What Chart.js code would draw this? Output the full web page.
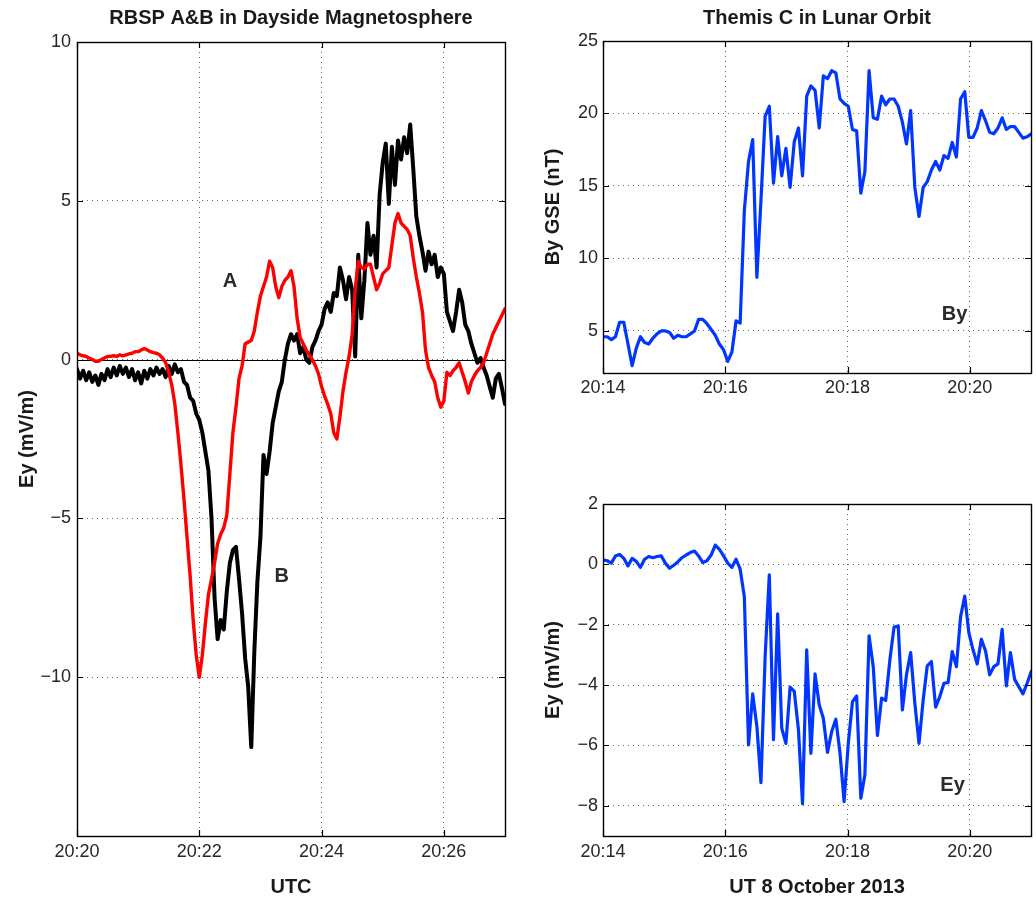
<!DOCTYPE html>
<html><head><meta charset="utf-8">
<script src="https://cdn.jsdelivr.net/npm/chart.js@4"></script>
<style>
html,body{margin:0;padding:0;background:#fff;width:1036px;height:900px;overflow:hidden}
.c{position:absolute}
</style></head><body>
<div class="c" style="left:0;top:0;"><canvas id="cL" width="520" height="900"></canvas></div>
<div class="c" style="left:520px;top:0;"><canvas id="cR1" width="516" height="400"></canvas></div>
<div class="c" style="left:520px;top:420px;"><canvas id="cR2" width="516" height="480"></canvas></div>
<script>
// ---------- RBSP (left panel) : seconds after 20:20:00 ----------
const rbspTime = [0,3,6,9,12,15,18,21,24,27,30,33,36,39,42,45,48,51,54,57,60,63,66,69,72,75,78,81,84,87,90,93,96,99,102,105,108,111,114,117,120,123,126,129,132,135,138,141,144,147,150,153,156,159,162,165,168,171,174,177,180,183,186,189,192,195,198,201,204,207,210,213,216,219,222,225,228,231,234,237,240,243,246,249,252,255,258,261,264,267,270,273,276,279,282,285,288,291,294,297,300,303,306,309,312,315,318,321,324,327,330,333,336,339,342,345,348,351,354,357,360,363,366,369,372,375,378,381,384,387,390,393,396,399,402,405,408,411,414,417,420];
const rbspA = [0.20,0.15,0.12,0.10,0.05,0.00,-0.05,-0.05,0.00,0.05,0.10,0.10,0.12,0.10,0.15,0.12,0.15,0.18,0.20,0.25,0.25,0.30,0.35,0.30,0.25,0.22,0.20,0.15,0.05,-0.10,
 -0.40,-0.80,-1.40,-2.30,-3.30,-4.40,-5.60,-6.80,-8.20,-9.30,-10.00,-9.30,-8.30,-7.40,-6.90,-6.40,-5.80,-5.50,-5.30,-4.90,
 -3.60,-2.30,-1.50,-0.60,-0.20,0.50,0.55,0.60,0.90,1.50,2.00,2.30,2.60,3.10,2.90,2.30,1.95,2.30,2.50,2.60,
 2.80,2.30,1.30,0.70,0.50,0.30,0.15,0.00,-0.20,-0.45,-0.85,-1.15,-1.40,-1.70,-2.30,-2.50,-1.80,-1.00,-0.40,0.10,
 0.80,2.20,3.10,2.90,2.85,3.00,3.00,2.60,2.20,2.40,2.70,2.80,2.90,3.60,4.30,4.60,4.30,4.20,4.10,3.90,
 3.20,2.60,2.10,1.50,0.30,-0.25,-0.50,-0.70,-1.20,-1.50,-1.30,-0.40,-0.50,-0.35,-0.25,-0.10,-0.40,-0.70,-1.05,-0.70,
 -0.50,-0.35,-0.25,-0.10,0.20,0.50,0.80,1.00,1.20,1.40,1.60];
const rbspB = [-0.30,-0.60,-0.35,-0.65,-0.40,-0.70,-0.50,-0.80,-0.45,-0.65,-0.30,-0.55,-0.25,-0.50,-0.20,-0.45,-0.25,-0.55,-0.30,-0.65,
 -0.40,-0.75,-0.35,-0.60,-0.30,-0.50,-0.25,-0.45,-0.30,-0.55,-0.20,-0.45,-0.15,-0.40,-0.30,-0.70,-0.80,-1.20,-1.30,-1.70,
 -1.90,-2.30,-2.90,-3.50,-5.00,-7.50,-8.80,-8.20,-8.50,-7.30,-6.40,-6.00,-5.90,-6.90,-8.00,-9.40,-10.30,-12.20,-9.20,-7.00,
 -5.60,-3.00,-3.60,-2.90,-2.00,-1.50,-1.00,-0.70,0.00,0.50,0.80,0.60,0.80,0.20,0.40,0.00,-0.10,0.40,0.60,0.90,
 1.10,1.60,1.80,1.50,2.10,2.00,2.90,2.50,1.90,2.60,2.20,0.10,3.30,1.30,2.50,4.30,3.30,3.90,2.90,5.20,
 6.20,6.80,4.90,6.70,5.50,6.90,6.30,7.00,6.50,7.40,6.00,4.50,3.90,3.40,2.80,3.40,3.00,3.30,2.60,2.90,
 2.70,1.50,1.20,0.90,1.50,2.20,1.80,1.10,0.90,0.50,0.20,-0.10,0.05,-0.25,-0.50,-0.85,-1.20,-0.60,-0.45,-0.90,-1.40];
const rbspXTicks = [0,120,240,360];
const rbspXLabels = ['20:20','20:22','20:24','20:26'];
const rbspYTicks = [-10,-5,0,5,10];
const rbspYLabels = ['\u221210','\u22125','0','5','10'];

// ---------- THEMIS C (right panels) : seconds after 20:14:00 ----------
const themisTime = [0,4.1,8.2,12.2,16.3,20.4,24.5,28.6,32.6,36.7,40.8,44.9,49.0,53.0,57.1,61.2,65.3,69.4,73.4,77.5,81.6,85.7,89.8,93.8,97.9,102.0,106.1,110.2,114.2,118.3,122.4,126.5,130.6,134.6,138.7,142.8,146.9,151.0,155.0,159.1,163.2,167.3,171.4,175.4,179.5,183.6,187.7,191.8,195.8,199.9,204.0,208.1,212.2,216.2,220.3,224.4,228.5,232.6,236.6,240.7,244.8,248.9,253.0,257.0,261.1,265.2,269.3,273.4,277.4,281.5,285.6,289.7,293.8,297.8,301.9,306.0,310.1,314.2,318.2,322.3,326.4,330.5,334.6,338.6,342.7,346.8,350.9,355.0,359.0,363.1,367.2,371.3,375.4,379.4,383.5,387.6,391.7,395.8,399.8,403.9,408.0,412.1,416.2,420.2];
const themisBy = [4.6,4.6,4.4,4.6,5.6,5.6,4.1,2.6,3.8,4.6,
 4.2,4.1,4.5,4.8,5.0,5.0,4.9,4.5,4.7,4.6,
 4.6,4.8,5.0,5.8,5.8,5.5,5.1,4.7,4.1,3.7,
 2.9,3.55,5.7,5.55,13.3,16.7,18.2,8.7,14.0,19.8,
 20.5,15.2,18.4,15.7,17.6,14.9,18.05,19.0,15.7,21.2,
 21.9,21.6,19.0,22.6,22.4,22.95,22.8,21.0,20.7,20.5,
 18.9,18.8,14.5,16.0,22.95,19.7,19.6,21.2,20.6,21.0,
 21.0,20.5,19.4,17.9,20.2,14.9,12.9,14.9,15.3,16.1,
 16.7,16.1,17.1,16.9,18.0,17.0,21.0,21.5,18.35,18.35,
 19.0,20.2,19.5,18.7,18.6,19.0,19.7,18.9,19.1,19.1,
 18.7,18.3,18.4,18.6];
const themisEy = [0.15,0.12,0.04,0.28,0.33,0.2,-0.05,0.2,0.1,-0.1,
 0.17,0.26,0.22,0.26,0.28,0.04,-0.13,-0.03,0.08,0.22,
 0.31,0.39,0.44,0.28,0.06,0.12,0.31,0.64,0.5,0.28,
 0.04,-0.1,0.17,-0.16,-1.07,-5.98,-4.29,-5.37,-7.23,-3.06,
 -0.35,-5.81,-1.64,-5.43,-5.93,-4.07,-4.21,-5.48,-7.93,-2.83,
 -6.26,-3.63,-4.66,-5.1,-6.23,-5.54,-5.13,-6.26,-7.86,-5.93,
 -4.55,-4.36,-7.75,-6.97,-2.37,-3.39,-5.67,-4.43,-4.51,-3.17,
 -2.08,-2.04,-4.82,-3.66,-2.92,-4.6,-5.93,-4.49,-3.36,-3.22,
 -4.73,-4.38,-3.94,-3.92,-2.89,-3.39,-1.73,-1.05,-2.26,-2.83,
 -3.3,-2.48,-2.87,-3.66,-3.39,-3.3,-2.15,-4.03,-2.92,-3.81,
 -4.05,-4.29,-3.94,-3.55];
const themisXTicks = [0,120,240,360];
const themisXLabels = ['20:14','20:16','20:18','20:20'];
const byYTicks = [5,10,15,20,25];
const byYLabels = ['5','10','15','20','25'];
const eyYTicks = [-8,-6,-4,-2,0,2];
const eyYLabels = ['\u22128','\u22126','\u22124','\u22122','0','2'];

// ---------- common styling ----------
const FONT = '"Liberation Sans", Arial, Helvetica, sans-serif';
const TICK_COLOR = '#262626';

const framePlugin = {
  id: 'frame',
  beforeDatasetsDraw(chart, args, opts) {
    if (!opts.zeroLine) return;
    const {ctx, chartArea: a, scales: {y}} = chart;
    const py = Math.round(y.getPixelForValue(0)) + 0.5;
    ctx.save();
    ctx.strokeStyle = '#000'; ctx.lineWidth = 1;
    ctx.beginPath(); ctx.moveTo(a.left, py); ctx.lineTo(a.right, py); ctx.stroke();
    ctx.restore();
  },
  afterDraw(chart, args, opts) {
    const {ctx, chartArea: a, scales: {x, y}} = chart;
    ctx.save();
    ctx.strokeStyle = '#000'; ctx.lineWidth = 1.4;
    ctx.strokeRect(Math.round(a.left)+0.5, Math.round(a.top)+0.5, Math.round(a.right-a.left), Math.round(a.bottom-a.top));
    const L = 6;
    ctx.lineWidth = 1.2;
    ctx.beginPath();
    x.ticks.forEach(t => {
      const px = Math.round(x.getPixelForValue(t.value)) + 0.5;
      ctx.moveTo(px, a.bottom); ctx.lineTo(px, a.bottom - L);
      ctx.moveTo(px, a.top); ctx.lineTo(px, a.top + L);
    });
    y.ticks.forEach(t => {
      const py = Math.round(y.getPixelForValue(t.value)) + 0.5;
      ctx.moveTo(a.left, py); ctx.lineTo(a.left + L, py);
      ctx.moveTo(a.right, py); ctx.lineTo(a.right - L, py);
    });
    ctx.stroke();
    (opts.labels || []).forEach(l => {
      ctx.font = 'bold 20px ' + FONT;
      ctx.fillStyle = '#2b2b2b';
      ctx.textAlign = 'center'; ctx.textBaseline = 'middle';
      ctx.fillText(l.text, x.getPixelForValue(l.x), y.getPixelForValue(l.y));
    });
    ctx.restore();
  }
};

function gridOpts() {
  return { color: '#666666', lineWidth: 1, drawTicks: false };
}

function makeChart(id, cfg) {
  return new Chart(document.getElementById(id), {
    type: 'line',
    data: { datasets: cfg.datasets },
    plugins: [framePlugin],
    options: {
      responsive: false,
      animation: false,
      events: [],
      layout: { padding: cfg.padding },
      elements: { point: { radius: 0 }, line: { tension: 0, borderJoinStyle: 'round', borderCapStyle: 'round' } },
      plugins: {
        legend: { display: false },
        tooltip: { enabled: false },
        title: cfg.title ? {
          display: true, text: cfg.title, fullSize: false, color: '#1a1a1a',
          font: { family: FONT, size: 20, weight: 'bold' },
          padding: cfg.titlePad
        } : { display: false },
        frame: { zeroLine: !!cfg.zeroLine, labels: cfg.labels }
      },
      scales: {
        x: {
          type: 'linear', min: cfg.xMin, max: cfg.xMax,
          afterBuildTicks: s => { s.ticks = cfg.xTicks.map(v => ({ value: v })); },
          afterFit: s => { s.height = cfg.xHeight; },
          grid: gridOpts(),
          border: { display: false, dash: [1, 4] },
          ticks: {
            color: TICK_COLOR, padding: cfg.xTickPad, maxRotation: 0, autoSkip: false,
            font: { family: FONT, size: 18 },
            callback: (v, i) => cfg.xLabels[i]
          },
          title: cfg.xTitle ? {
            display: true, text: cfg.xTitle, color: '#1a1a1a',
            font: { family: FONT, size: 20, weight: 'bold' },
            padding: { top: 0, bottom: 1 }
          } : { display: false }
        },
        y: {
          type: 'linear', min: cfg.yMin, max: cfg.yMax,
          afterBuildTicks: s => { s.ticks = cfg.yTicks.map(v => ({ value: v })); },
          afterFit: s => { s.width = cfg.yWidth; },
          grid: gridOpts(),
          border: { display: false, dash: [1, 4] },
          ticks: {
            color: TICK_COLOR, padding: cfg.yTickPad, autoSkip: false,
            font: { family: FONT, size: 18 },
            callback: (v, i) => cfg.yLabels[i]
          },
          title: {
            display: true, text: cfg.yTitle, color: '#1a1a1a',
            font: { family: FONT, size: 20, weight: 'bold' },
            padding: { top: cfg.yTitlePad, bottom: 0 }
          }
        }
      }
    }
  });
}

const pts = (xs, ys) => xs.map((t, i) => ({ x: t, y: ys[i] }));

makeChart('cL', {
  datasets: [
    { data: pts(rbspTime, rbspA), borderColor: '#ff0000', borderWidth: 3.4 },
    { data: pts(rbspTime, rbspB), borderColor: '#000000', borderWidth: 4 }
  ],
  padding: { top: 0, left: 0, right: 15, bottom: 0 },
  title: 'RBSP A&B in Dayside Magnetosphere', titlePad: { top: 6, bottom: 12 },
  zeroLine: true,
  labels: [ { text: 'A', x: 150, y: 2.45 }, { text: 'B', x: 201, y: -6.82 } ],
  xMin: 0, xMax: 420, xTicks: rbspXTicks, xLabels: rbspXLabels, xHeight: 64, xTickPad: 5, xTitle: 'UTC',
  yMin: -15, yMax: 10, yTicks: rbspYTicks, yLabels: rbspYLabels, yWidth: 77, yTickPad: 6,
  yTitle: 'Ey (mV/m)', yTitlePad: 15
});

makeChart('cR1', {
  datasets: [ { data: pts(themisTime, themisBy), borderColor: '#0036ff', borderWidth: 3.2 } ],
  padding: { top: 0, left: 0, right: 5, bottom: 0 },
  title: 'Themis C in Lunar Orbit', titlePad: { top: 6, bottom: 11 },
  labels: [ { text: 'By', x: 345, y: 6.17 } ],
  xMin: 0, xMax: 420, xTicks: themisXTicks, xLabels: themisXLabels, xHeight: 27, xTickPad: 4, xTitle: null,
  yMin: 2.1, yMax: 25, yTicks: byYTicks, yLabels: byYLabels, yWidth: 83, yTickPad: 5,
  yTitle: 'By GSE (nT)', yTitlePad: 21
});

makeChart('cR2', {
  datasets: [ { data: pts(themisTime, themisEy), borderColor: '#0036ff', borderWidth: 3.2 } ],
  padding: { top: 84, left: 0, right: 5, bottom: 0 },
  title: null,
  labels: [ { text: 'Ey', x: 343, y: -7.32 } ],
  xMin: 0, xMax: 420, xTicks: themisXTicks, xLabels: themisXLabels, xHeight: 64, xTickPad: 5, xTitle: 'UT 8 October 2013',
  yMin: -9, yMax: 2, yTicks: eyYTicks, yLabels: eyYLabels, yWidth: 83, yTickPad: 5,
  yTitle: 'Ey (mV/m)', yTitlePad: 21
});
</script>
</body></html>
